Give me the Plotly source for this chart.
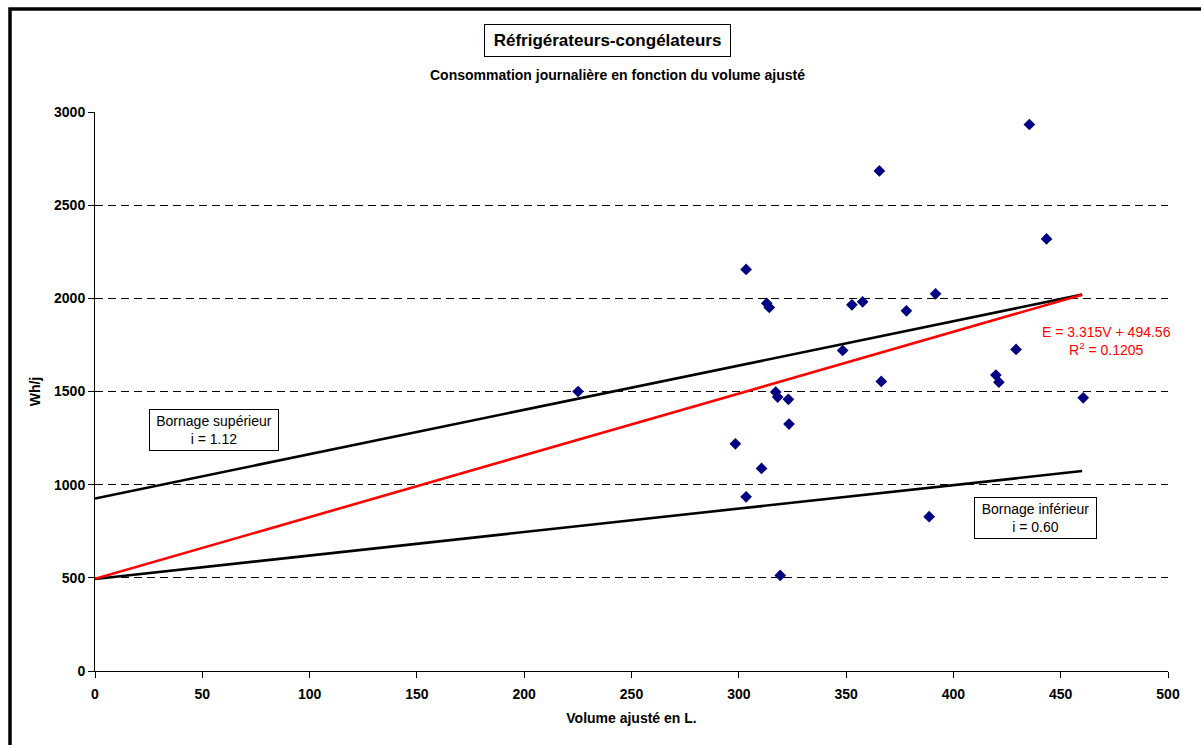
import plotly.graph_objects as go

# Measured appliances: adjusted volume (L) and daily consumption (Wh/j)
volume = [435.4, 365.5, 443.4, 303.4, 313.0, 314.2, 352.7, 357.7, 378.1, 391.7,
          348.4, 429.2, 419.8, 421.2, 366.4, 460.5, 317.2, 318.1, 323.1, 323.4,
          298.4, 310.6, 303.4, 388.7, 319.3, 225.1]
conso = [2933, 2684, 2319, 2155, 1973, 1951, 1965, 1981, 1933, 2024,
         1720, 1726, 1588, 1550, 1554, 1466, 1497, 1470, 1458, 1325,
         1219, 1087, 935, 828, 513, 1500]

# Linear trend E = a*V + b
slope = 3.315
intercept = 494.56
trend_x = [0, 460]

# Upper / lower bounds
bound_x = [0, 460]
upper_y = [926, 2020]
lower_y = [494, 1073]

x_ticks = [0, 50, 100, 150, 200, 250, 300, 350, 400, 450, 500]
y_ticks = [0, 500, 1000, 1500, 2000, 2500, 3000]

FONT = "Liberation Sans, Arial, sans-serif"
PX_PER_X = 1073 / 500
PX_PER_Y = 559 / 3000

fig = go.Figure()

fig.add_trace(go.Scatter(x=bound_x, y=upper_y, mode="lines",
                         line=dict(color="black", width=2.6), hoverinfo="skip"))
fig.add_trace(go.Scatter(x=bound_x, y=lower_y, mode="lines",
                         line=dict(color="black", width=2.6), hoverinfo="skip"))
fig.add_trace(go.Scatter(x=trend_x, y=[slope * v + intercept for v in trend_x],
                         mode="lines", line=dict(color="#FF0000", width=2.6),
                         hoverinfo="skip"))
fig.add_trace(go.Scatter(x=volume, y=conso, mode="markers",
                         marker=dict(symbol="diamond", size=9, color="#000080",
                                     line=dict(width=0))))

fig.update_layout(
    width=1201, height=745,
    margin=dict(l=95, r=33, t=112, b=74),
    paper_bgcolor="white", plot_bgcolor="white",
    showlegend=False,
    font=dict(family=FONT, color="black"),
)

fig.update_xaxes(
    range=[0, 500], tickvals=x_ticks, showgrid=False, zeroline=False,
    showline=True, linecolor="black", linewidth=1,
    ticks="outside", ticklen=6, tickcolor="black", ticklabelstandoff=4,
    tickfont=dict(family=FONT, size=14, color="black", weight="bold"),
    title=dict(text="<b>Volume ajusté en L.</b>", font=dict(family=FONT, size=14),
               standoff=12),
)
fig.update_yaxes(
    range=[0, 3000], tickvals=y_ticks, zeroline=False,
    showline=True, linecolor="black", linewidth=1,
    ticks="outside", ticklen=6, tickcolor="black",
    showgrid=True, gridcolor="black", gridwidth=1, griddash="8px,5px",
    tickfont=dict(family=FONT, size=14, color="black", weight="bold"),
    title=dict(text="<b>Wh/j</b>", font=dict(family=FONT, size=14), standoff=10),
)

# Outer frame of the chart area
fig.add_shape(type="rect", xref="paper", yref="paper",
              x0=-85 / 1073, x1=1.2, y0=-0.3, y1=1 + 103 / 559,
              line=dict(color="black", width=3.5), layer="above")

# Title box and subtitle
fig.add_annotation(xref="paper", yref="paper", x=(607 - 95) / 1073, y=1 + (112 - 40) / 559,
                   text="<b>Réfrigérateurs-congélateurs</b>", showarrow=False,
                   font=dict(family=FONT, size=17, color="black"),
                   bordercolor="black", borderwidth=1, borderpad=6, bgcolor="white",
                   width=233, xanchor="center", yanchor="middle")
fig.add_annotation(xref="paper", yref="paper", x=(617 - 95) / 1073, y=1 + (112 - 75) / 559,
                   text="<b>Consommation journalière en fonction du volume ajusté</b>",
                   showarrow=False, font=dict(family=FONT, size=14, color="black"),
                   xanchor="center", yanchor="middle")

# Trend equation
fig.add_annotation(x=(1106 - 95) / PX_PER_X, y=(671 - 341) / PX_PER_Y,
                   text="E = 3.315V + 494.56<br>R<sup>2</sup> = 0.1205",
                   showarrow=False, font=dict(family=FONT, size=14, color="#FF0000"),
                   align="center", xanchor="center", yanchor="middle")

# Bound labels
fig.add_annotation(x=(214 - 95) / PX_PER_X, y=(671 - 430) / PX_PER_Y,
                   text="Bornage supérieur<br>i = 1.12", showarrow=False,
                   font=dict(family=FONT, size=14, color="black"), align="center",
                   bordercolor="black", borderwidth=1, borderpad=3, bgcolor="white",
                   width=122, xanchor="center", yanchor="middle")
fig.add_annotation(x=(1035 - 95) / PX_PER_X, y=(671 - 518) / PX_PER_Y,
                   text="Bornage inférieur<br>i = 0.60", showarrow=False,
                   font=dict(family=FONT, size=14, color="black"), align="center",
                   bordercolor="black", borderwidth=1, borderpad=3, bgcolor="white",
                   width=115, xanchor="center", yanchor="middle")

fig.write_html("out.html")
